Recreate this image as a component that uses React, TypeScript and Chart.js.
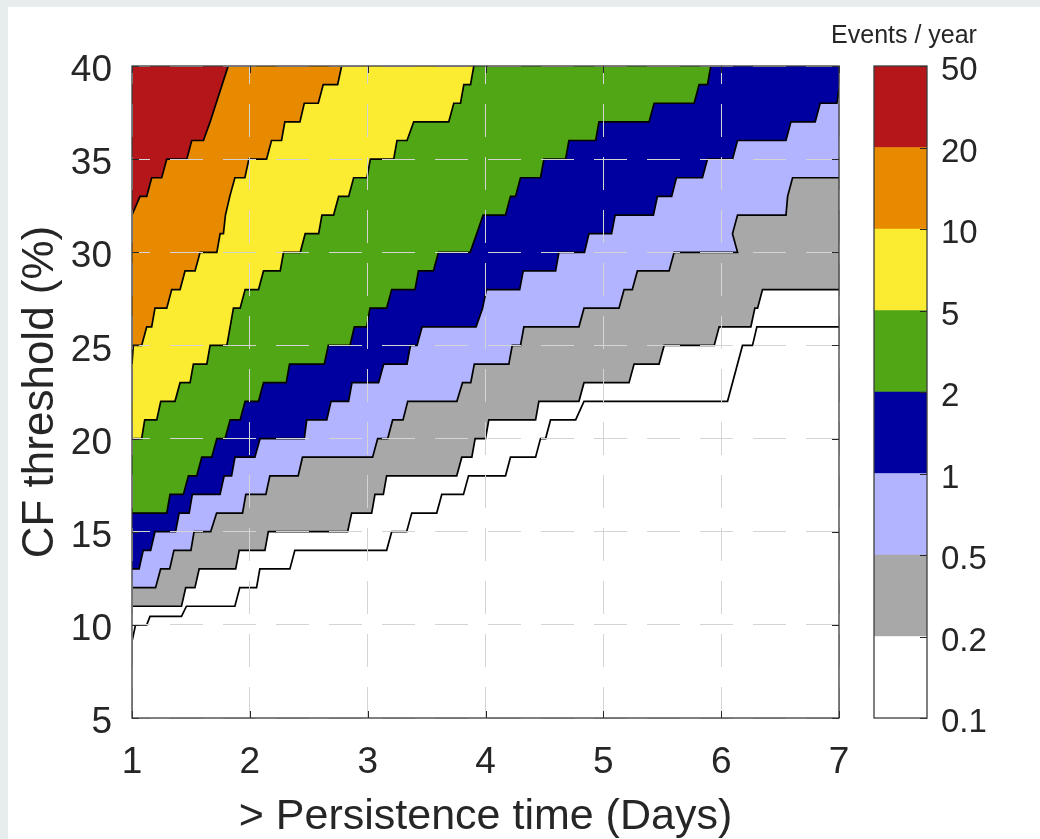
import React, { useEffect, useRef } from 'react';
import { Chart, registerables } from 'chart.js';

Chart.register(...registerables);

// ---------------- data ----------------
const xTicks = [1, 2, 3, 4, 5, 6, 7];
const yTicks = [5, 10, 15, 20, 25, 30, 35, 40];
const levelLabels = ['0.1', '0.2', '0.5', '1', '2', '5', '10', '20', '50'];
// band colours from lowest (0.1-0.2) to highest (20-50)
const bandColors = ['#ffffff', '#a8a8a8', '#b3b4ff', '#0000a0', '#51a616', '#fbeb31', '#e88a00', '#b5161a'];

// contour 20 events/year (red | orange)
const c20Days = [1.000, 1.068, 1.125, 1.167, 1.252, 1.295, 1.465, 1.507, 1.606, 1.663, 1.714, 1.765, 1.816];
const c20Thr = [32, 33, 33, 34, 34, 35, 35, 36, 36, 37, 38, 39, 40];

// contour 10 events/year (orange | yellow)
const c10Days = [1.000, 1.011, 1.082, 1.125, 1.167, 1.195, 1.295, 1.337, 1.408, 1.450, 1.535, 1.578, 1.720, 1.748, 1.776, 1.793, 1.830, 1.873, 1.958, 1.992, 2.142, 2.184, 2.269, 2.297, 2.425, 2.462, 2.581, 2.623, 2.745, 2.779];
const c10Thr = [24, 25, 25, 26, 26, 27, 27, 28, 28, 29, 29, 30, 30, 31, 31, 32, 33, 34, 34, 35, 35, 36, 36, 37, 37, 38, 38, 39, 39, 40];

// contour 5 events/year (yellow | green)
const c5Days = [1.000, 1.082, 1.108, 1.210, 1.244, 1.365, 1.408, 1.493, 1.521, 1.635, 1.663, 1.805, 1.833, 1.839, 1.861, 1.918, 1.960, 2.074, 2.116, 2.258, 2.286, 2.428, 2.470, 2.584, 2.612, 2.711, 2.754, 2.839, 2.881, 2.994, 3.023, 3.221, 3.249, 3.334, 3.391, 3.688, 3.731, 3.788, 3.816, 3.873, 3.901];
const c5Thr = [20, 20, 21, 21, 22, 22, 23, 23, 24, 24, 25, 25, 26, 26, 27, 27, 28, 28, 29, 29, 30, 30, 31, 31, 32, 32, 33, 33, 34, 34, 35, 35, 36, 36, 37, 37, 38, 38, 39, 39, 40];

// contour 2 events/year (green | dark blue)
const c2Days = [1.000, 1.295, 1.323, 1.436, 1.479, 1.550, 1.592, 1.677, 1.720, 1.790, 1.833, 1.918, 1.960, 2.074, 2.116, 2.309, 2.337, 2.632, 2.666, 2.850, 2.887, 2.992, 3.020, 3.161, 3.204, 3.402, 3.431, 3.558, 3.601, 3.870, 3.926, 3.980, 4.170, 4.212, 4.255, 4.297, 4.467, 4.496, 4.680, 4.708, 4.935, 4.963, 5.388, 5.431, 5.771, 5.813, 5.884, 5.912];
const c2Thr = [16, 16, 17, 17, 18, 18, 19, 19, 20, 20, 21, 21, 22, 22, 23, 23, 24, 24, 25, 25, 26, 26, 27, 27, 28, 28, 29, 29, 30, 30, 31, 32, 32, 33, 33, 34, 34, 35, 35, 36, 36, 37, 37, 38, 38, 39, 39, 40];

// contour 1 event/year (dark blue | light blue)
const c1Days = [1.000, 1.060, 1.095, 1.158, 1.195, 1.370, 1.400, 1.485, 1.512, 1.747, 1.782, 1.845, 1.874, 2.043, 2.087, 2.462, 2.483, 2.653, 2.689, 2.838, 2.867, 3.093, 3.136, 3.334, 3.363, 3.419, 3.462, 3.920, 3.975, 4.007, 4.290, 4.320, 4.595, 4.623, 4.840, 4.878, 5.070, 5.100, 5.425, 5.459, 5.580, 5.620, 5.841, 5.884, 6.096, 6.139, 6.550, 6.592, 6.798, 6.840, 6.982, 7.000];
const c1Thr = [13, 13, 14, 14, 15, 15, 16, 16, 17, 17, 18, 18, 19, 19, 20, 20, 21, 21, 22, 22, 23, 23, 24, 24, 25, 25, 26, 26, 27, 28, 28, 29, 29, 30, 30, 31, 31, 32, 32, 33, 33, 34, 34, 35, 35, 36, 36, 37, 37, 38, 38, 38.8];

// contour 0.5 events/year (light blue | grey)
const c05Days = [1.000, 1.200, 1.243, 1.320, 1.356, 1.500, 1.527, 1.668, 1.718, 1.938, 1.966, 2.136, 2.170, 2.410, 2.447, 3.042, 3.085, 3.170, 3.212, 3.300, 3.340, 3.757, 3.805, 3.875, 3.905, 4.198, 4.227, 4.297, 4.326, 4.793, 4.836, 5.133, 5.176, 5.246, 5.289, 5.558, 5.601, 6.139, 6.096, 6.139, 6.550, 6.564, 6.606, 7.000];
const c05Thr = [12, 12, 13, 13, 14, 14, 15, 15, 16, 16, 17, 17, 18, 18, 19, 19, 20, 20, 21, 21, 22, 22, 23, 23, 24, 24, 25, 25, 26, 26, 27, 27, 28, 28, 29, 29, 30, 30, 31, 32, 32, 33, 34, 34];

// contour 0.2 events/year (grey | white)
const c02Days = [1.000, 1.420, 1.456, 1.534, 1.570, 1.880, 1.910, 2.128, 2.157, 2.830, 2.864, 3.034, 3.062, 3.133, 3.161, 3.756, 3.799, 3.884, 3.912, 4.000, 4.028, 4.425, 4.453, 4.793, 4.836, 5.218, 5.261, 5.473, 5.516, 5.941, 5.983, 6.252, 6.286, 6.309, 6.351, 7.000];
const c02Thr = [11, 11, 12, 12, 13, 13, 14, 14, 15, 15, 16, 16, 17, 17, 18, 18, 19, 19, 20, 20, 21, 21, 22, 22, 23, 23, 24, 24, 25, 25, 26, 26, 27, 27, 28, 28];

// contour 0.1 events/year (line inside white area)
const c01Days = [1.000, 1.030, 1.125, 1.153, 1.420, 1.462, 1.873, 1.915, 2.057, 2.085, 2.340, 2.382, 3.161, 3.204, 3.331, 3.374, 3.586, 3.629, 3.813, 3.856, 4.170, 4.212, 4.425, 4.467, 4.510, 4.552, 4.765, 4.836, 6.054, 6.181, 6.266, 6.303, 7.000];
const c01Thr = [9.1, 10, 10, 10.45, 10.45, 11, 11, 12, 12, 13, 13, 14, 14, 15, 15, 16, 16, 17, 17, 18, 18, 19, 19, 20, 20, 21, 21, 22, 22, 25, 25, 26, 26];

// ---------------- helpers ----------------
const X_MIN = 1, X_MAX = 7, Y_MIN = 5, Y_MAX = 40;
const TEXT = '#262626';
const FONT = '"Liberation Sans", Arial, Helvetica, sans-serif';

function contourPoints(days: number[], thr: number[]) {
  const pts = days.map((d, i) => ({ x: d, y: thr[i] }));
  const last = pts[pts.length - 1];
  // carry the contour past the plot frame so that the fill closes cleanly (clipped away)
  if (last.y >= Y_MAX) {
    pts.push({ x: last.x + 0.02, y: Y_MAX + 1 });
    pts.push({ x: X_MAX + 1, y: Y_MAX + 1 });
  } else {
    pts.push({ x: X_MAX + 1, y: last.y });
  }
  return pts;
}

const contours = [
  { days: c20Days, thr: c20Thr, below: bandColors[6] },
  { days: c10Days, thr: c10Thr, below: bandColors[5] },
  { days: c5Days, thr: c5Thr, below: bandColors[4] },
  { days: c2Days, thr: c2Thr, below: bandColors[3] },
  { days: c1Days, thr: c1Thr, below: bandColors[2] },
  { days: c05Days, thr: c05Thr, below: bandColors[1] },
  { days: c02Days, thr: c02Thr, below: bandColors[0] },
  { days: c01Days, thr: c01Thr, below: null as string | null },
];

const frameMain = {
  id: 'frameMain',
  beforeDatasetsDraw(chart: any) {
    const { ctx, chartArea } = chart;
    ctx.save();
    ctx.fillStyle = bandColors[7];
    ctx.fillRect(chartArea.left, chartArea.top, chartArea.right - chartArea.left, chartArea.bottom - chartArea.top);
    ctx.restore();
  },
  afterDraw(chart: any) {
    const { ctx, chartArea } = chart;
    const { left, right, top, bottom } = chartArea;
    const xs = chart.scales.x;
    const ys = chart.scales.y;
    ctx.save();
    ctx.strokeStyle = TEXT;
    ctx.lineWidth = 1;
    const tl = 7;
    ctx.beginPath();
    xTicks.forEach((v) => {
      const p = Math.round(xs.getPixelForValue(v)) + 0.5;
      ctx.moveTo(p, bottom); ctx.lineTo(p, bottom - tl);
      ctx.moveTo(p, top); ctx.lineTo(p, top + tl);
    });
    yTicks.forEach((v) => {
      const p = Math.round(ys.getPixelForValue(v)) + 0.5;
      ctx.moveTo(left, p); ctx.lineTo(left + tl, p);
      ctx.moveTo(right, p); ctx.lineTo(right - tl, p);
    });
    ctx.stroke();
    ctx.strokeStyle = '#3c3c3c';
    ctx.lineWidth = 1.3;
    ctx.strokeRect(left, top, right - left, bottom - top);
    ctx.restore();
  },
};

const frameBar = {
  id: 'frameBar',
  afterDraw(chart: any) {
    const { ctx, chartArea } = chart;
    const { left, right, top, bottom } = chartArea;
    const ys = chart.scales.y;
    ctx.save();
    ctx.strokeStyle = TEXT;
    ctx.lineWidth = 1;
    ctx.beginPath();
    levelLabels.forEach((_, i) => {
      const p = Math.round(ys.getPixelForValue(i)) + 0.5;
      ctx.moveTo(right, p); ctx.lineTo(right - 7, p);
    });
    ctx.stroke();
    ctx.strokeStyle = '#3c3c3c';
    ctx.lineWidth = 1.3;
    ctx.strokeRect(left, top, right - left, bottom - top);
    ctx.restore();
  },
};

export default function App() {
  const mainRef = useRef<HTMLCanvasElement>(null);
  const barRef = useRef<HTMLCanvasElement>(null);

  useEffect(() => {
    document.body.style.margin = '0';
    document.body.style.background = '#e7ecec';
    Chart.defaults.font.family = FONT;
    Chart.defaults.color = TEXT;

    const datasets = contours.map((c, i) => ({
      data: contourPoints(c.days, c.thr),
      borderColor: '#000000',
      borderWidth: 1.7,
      pointRadius: 0,
      tension: 0,
      fill: c.below ? 'start' : false,
      backgroundColor: c.below || 'rgba(0,0,0,0)',
      order: contours.length - i,
    }));

    const main = new Chart(mainRef.current as HTMLCanvasElement, {
      type: 'line',
      data: { datasets } as any,
      options: {
        animation: false,
        responsive: false,
        events: [],
        layout: { padding: { left: 0, top: 59, right: 201, bottom: 0 } },
        plugins: { legend: { display: false }, tooltip: { enabled: false } },
        scales: {
          x: {
            type: 'linear',
            min: X_MIN,
            max: X_MAX,
            afterFit: (s: any) => { s.height = 121; },
            afterBuildTicks: (s: any) => { s.ticks = xTicks.map((v) => ({ value: v })); },
            ticks: { font: { size: 37 }, padding: 23, color: TEXT, maxRotation: 0 },
            grid: { color: '#d4d4d4', lineWidth: 1, drawTicks: false, z: 1 },
            border: { display: false, dash: [33, 20], dashOffset: 15 },
            title: { display: true, text: '> Persistence time (Days)', font: { size: 43, lineHeight: 1 }, color: TEXT, padding: { top: 0, bottom: 0 } },
          },
          y: {
            type: 'linear',
            min: Y_MIN,
            max: Y_MAX,
            afterFit: (s: any) => { s.width = 124; },
            afterBuildTicks: (s: any) => { s.ticks = yTicks.map((v) => ({ value: v })); },
            ticks: { font: { size: 37 }, padding: 20, labelOffset: 5, color: TEXT },
            grid: { color: '#d4d4d4', lineWidth: 1, drawTicks: false, z: 1 },
            border: { display: false, dash: [33, 20], dashOffset: 15 },
            title: { display: true, text: 'CF threshold (%)', font: { size: 44, lineHeight: 1 }, color: TEXT, padding: { top: 11, bottom: 0 } },
          },
        },
      } as any,
      plugins: [frameMain],
    });

    const barDatasets = bandColors.map((col) => ({
      data: [1],
      backgroundColor: col,
      borderWidth: 0,
      barPercentage: 1,
      categoryPercentage: 1,
      stack: 'cb',
    }));

    const bar = new Chart(barRef.current as HTMLCanvasElement, {
      type: 'bar',
      data: { labels: [''], datasets: barDatasets },
      options: {
        animation: false,
        responsive: false,
        events: [],
        layout: { padding: { left: 70, top: 59, right: 0, bottom: 121 } },
        plugins: { legend: { display: false }, tooltip: { enabled: false } },
        scales: {
          x: { display: false, stacked: true },
          y: {
            position: 'right',
            stacked: true,
            min: 0,
            max: levelLabels.length - 1,
            afterFit: (s: any) => { s.width = 77; },
            afterBuildTicks: (s: any) => { s.ticks = levelLabels.map((_, i) => ({ value: i })); },
            ticks: { font: { size: 33 }, padding: 14, labelOffset: 5, color: TEXT, callback: (v: any) => levelLabels[v] },
            grid: { display: false, drawTicks: false },
            border: { display: false },
          },
        },
      } as any,
      plugins: [frameBar],
    });

    return () => {
      main.destroy();
      bar.destroy();
    };
  }, []);

  return (
    <div style={{ position: 'fixed', left: 8, top: 7, width: 1032, height: 832, background: '#ffffff', overflow: 'hidden' }}>
      <canvas ref={mainRef} width={1032} height={832} style={{ position: 'absolute', left: 0, top: 0 }} />
      <canvas ref={barRef} width={200} height={832} style={{ position: 'absolute', left: 796, top: 0 }} />
      <div
        style={{
          position: 'absolute',
          left: 796,
          width: 200,
          top: 12,
          lineHeight: '30px',
          textAlign: 'center',
          fontFamily: FONT,
          fontSize: 25,
          color: TEXT,
        }}
      >
        Events / year
      </div>
    </div>
  );
}
